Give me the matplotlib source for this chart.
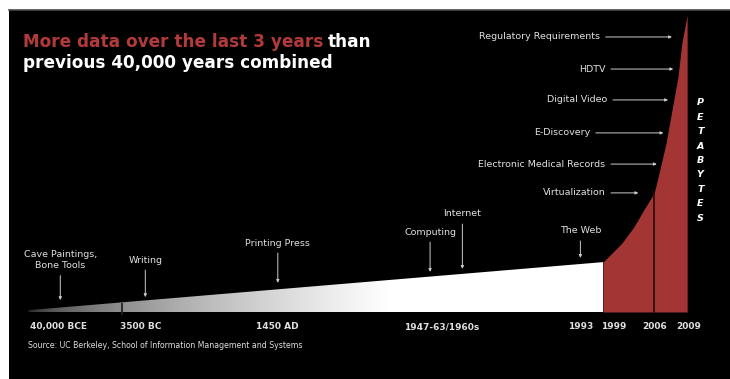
import numpy as np
import matplotlib
matplotlib.use("Agg")
from matplotlib import pyplot as plt
from matplotlib.colors import LinearSegmentedColormap

# timeline position (0..100) and data volume (0..100, relative)
wedge_x = [0, 87.25]
wedge_h = [0.6, 16.8]

curve_x = [87.25, 88.0, 90.1, 91.9, 93.4, 95.0, 95.6, 96.8, 97.7, 98.6, 99.2, 100.0]
curve_y = [16.8, 18.5, 23.2, 28.6, 34.3, 40.1, 45.5, 56.9, 68.0, 79.1, 90.6, 100.0]
split_x = 95.0
bc_mark_x = 14.3

year_labels = ["40,000 BCE", "3500 BC", "1450 AD", "1947-63/1960s", "1993", "1999", "2006", "2009"]
year_pos = [4.6, 17.1, 37.8, 62.8, 83.8, 88.9, 95.0, 100.2]

events = ["Cave Paintings,\nBone Tools", "Writing", "Printing Press", "Computing", "Internet", "The Web"]
event_x = [4.9, 17.8, 37.9, 61.0, 65.9, 83.8]
event_text_y = [17.5, 17.5, 23.2, 26.9, 33.0, 27.3]
event_tip_y = [4.0, 5.0, 9.8, 13.5, 14.5, 18.2]

drivers = ["Regulatory Requirements", "HDTV", "Digital Video", "E-Discovery",
           "Electronic Medical Records", "Virtualization"]
driver_y = [92.6, 81.8, 71.4, 60.3, 49.8, 40.1]
driver_text_x = [86.8, 87.6, 87.9, 85.3, 87.6, 87.6]
driver_tip_x = [97.7, 97.9, 97.1, 96.4, 95.4, 92.6]

red = "#a33535"
title_red = "#b33a3a"
fg = "#e0e0e0"

fig = plt.figure(figsize=(7.3, 3.79), dpi=100, facecolor="white")
ax = fig.add_axes([9 / 730, 0, 721 / 730, 369 / 379])
ax.set_facecolor("black")
ax.set_xlim(-2.88, 106.5)
ax.set_ylim(-22.56, 101.68)
ax.set_xticks([])
ax.set_yticks([])
for s in ["left", "right", "bottom"]:
    ax.spines[s].set_visible(False)
ax.spines["top"].set_color("#4a4a4a")
ax.spines["top"].set_linewidth(1.2)

# gradient wedge
cmap = LinearSegmentedColormap.from_list("bw", ["#1a1a1a", "#ffffff"])
gx = np.linspace(wedge_x[0], wedge_x[1], 400)
grad = np.clip(gx / 55.0, 0, 1) ** 0.5
im = ax.imshow(grad[None, :], cmap=cmap, aspect="auto", vmin=0, vmax=1,
               extent=[wedge_x[0], wedge_x[1], 0, wedge_h[1]], zorder=2)
clip = plt.Polygon([[wedge_x[0], 0], [wedge_x[0], wedge_h[0]], [wedge_x[1], wedge_h[1]],
                    [wedge_x[1], 0]], closed=True, transform=ax.transData)
im.set_clip_path(clip)

# 3500 BC marker
ax.plot([bc_mark_x, bc_mark_x], [-0.6, 2.6], color="#222222", lw=1.3, zorder=3)

# red petabyte area
ax.fill_between(curve_x, 0, curve_y, color=red, lw=0, zorder=2)
ax.plot([split_x, split_x], [0, np.interp(split_x, curve_x, curve_y)],
        color="#2a0c0c", lw=1.2, zorder=3)

# year labels
for lab, x in zip(year_labels, year_pos):
    ax.text(x, -5.0, lab, color=fg, fontsize=6.5, fontweight="bold",
            ha="center", va="center")

ax.text(0, -11.4, "Source: UC Berkeley, School of Information Management and Systems",
        color=fg, fontsize=5.6, ha="left", va="center")

arrow = dict(arrowstyle="-|>,head_length=0.25,head_width=0.12", color="#cccccc",
             lw=0.7, shrinkA=2, shrinkB=0)

for lab, x, ty, tip in zip(events, event_x, event_text_y, event_tip_y):
    ax.annotate(lab, xy=(x, tip), xytext=(x, ty), color=fg, fontsize=6.8,
                ha="center", va="center", linespacing=1.3, arrowprops=arrow, zorder=4)

for lab, y, tx, tip in zip(drivers, driver_y, driver_text_x, driver_tip_x):
    ax.annotate(lab, xy=(tip, y), xytext=(tx, y), color=fg, fontsize=6.8,
                ha="right", va="center", arrowprops=arrow, zorder=4)

# PETABYTES vertical
for i, ch in enumerate("PETABYTES"):
    ax.text(102.0, 70.4 - i * 38.8 / 8, ch, color="white", fontsize=6.8,
            fontweight="bold", style="italic", ha="center", va="center")

# title
t1 = fig.text(23 / 730, 1 - 42 / 379, "More data over the last 3 years", color=title_red,
              fontsize=12.2, fontweight="bold", ha="left", va="center")
fig.text(23 / 730, 1 - 63 / 379, "previous 40,000 years combined", color="white",
         fontsize=12.2, fontweight="bold", ha="left", va="center")
fig.canvas.draw()
bb = t1.get_window_extent()
fig.text((bb.x1 + 5) / 730, 1 - 42 / 379, "than", color="white",
         fontsize=12.2, fontweight="bold", ha="left", va="center")

fig.savefig("out.png", dpi=100, facecolor="white")
